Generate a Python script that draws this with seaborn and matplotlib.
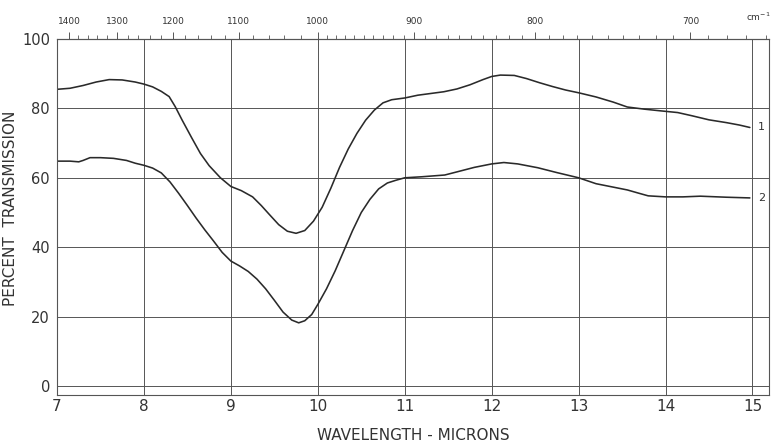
import numpy as np
import pandas as pd
import matplotlib
matplotlib.use("Agg")
import matplotlib.pyplot as plt
from matplotlib.ticker import FixedLocator, NullFormatter
import seaborn as sns

# Infrared transmission curves, wavelength in microns vs percent transmission
wavelength_1 = [7.0, 7.15, 7.3, 7.45, 7.6, 7.75, 7.9, 8.0, 8.1, 8.2, 8.29, 8.36, 8.44,
                8.55, 8.65, 8.75, 8.88, 9.0, 9.12, 9.25, 9.35, 9.44, 9.55, 9.65, 9.75,
                9.85, 9.95, 10.05, 10.15, 10.25, 10.35, 10.45, 10.55, 10.65, 10.75,
                10.85, 11.0, 11.15, 11.3, 11.45, 11.6, 11.75, 11.9, 12.0, 12.1, 12.26,
                12.4, 12.55, 12.7, 12.85, 13.0, 13.2, 13.4, 13.56, 13.75, 13.94, 14.14,
                14.3, 14.5, 14.7, 14.85, 14.97]
transmission_1 = [85.5, 85.8, 86.6, 87.6, 88.3, 88.2, 87.6, 87.0, 86.2, 84.9, 83.4, 80.5, 76.6,
                  71.5, 67.0, 63.5, 60.0, 57.5, 56.3, 54.5, 52.0, 49.5, 46.5, 44.6, 44.0,
                  44.8, 47.5, 51.5, 57.0, 63.0, 68.3, 72.8, 76.6, 79.5, 81.6,
                  82.5, 83.0, 83.8, 84.3, 84.8, 85.6, 86.8, 88.3, 89.2, 89.6, 89.5,
                  88.6, 87.4, 86.3, 85.3, 84.5, 83.3, 81.8, 80.4, 79.8, 79.3, 78.8,
                  77.9, 76.7, 75.9, 75.2, 74.5]

wavelength_2 = [7.0, 7.15, 7.25, 7.3, 7.38, 7.5, 7.65, 7.8, 7.9, 8.0, 8.1, 8.2, 8.3, 8.4,
                8.5, 8.6, 8.7, 8.8, 8.9, 9.0, 9.1, 9.2, 9.3, 9.4, 9.5, 9.6, 9.7, 9.78,
                9.85, 9.93, 10.0, 10.1, 10.2, 10.3, 10.4, 10.5, 10.6, 10.7, 10.8, 10.9,
                11.0, 11.2, 11.46, 11.6, 11.8, 12.0, 12.14, 12.3, 12.53, 12.75, 13.0,
                13.2, 13.4, 13.56, 13.7, 13.8, 14.0, 14.2, 14.4, 14.7, 14.97]
transmission_2 = [64.8, 64.8, 64.6, 65.0, 65.8, 65.8, 65.6, 65.0, 64.2, 63.6, 62.8, 61.4, 58.8, 55.5,
                  52.0, 48.4, 45.0, 41.8, 38.5, 36.0, 34.6, 33.0, 30.8, 28.0, 24.7, 21.3, 19.0, 18.2,
                  18.8, 20.6, 23.5, 28.0, 33.2, 39.0, 44.8, 50.0, 53.8, 56.8, 58.5, 59.3,
                  60.0, 60.3, 60.8, 61.7, 63.0, 64.0, 64.4, 64.0, 62.9, 61.5, 60.0,
                  58.3, 57.3, 56.5, 55.5, 54.8, 54.5, 54.5, 54.7, 54.4, 54.2]

curve_names = ["1", "2"]
x_ticks = [7, 8, 9, 10, 11, 12, 13, 14, 15]
y_ticks = [0, 20, 40, 60, 80, 100]
wavenumber_ticks = [1400, 1300, 1200, 1100, 1000, 900, 800, 700]

df = pd.concat([
    pd.DataFrame({"wavelength": wavelength_1, "transmission": transmission_1, "curve": curve_names[0]}),
    pd.DataFrame({"wavelength": wavelength_2, "transmission": transmission_2, "curve": curve_names[1]}),
])

sns.set_theme(style="white")
plt.rcParams["font.family"] = ["DejaVu Sans"]

ink = "#333333"
grid_ink = "#555555"

fig = plt.figure(figsize=(7.73, 4.45), dpi=100)
ax = fig.add_axes([57 / 773, 1 - 395 / 445, (769 - 57) / 773, (395 - 39) / 445])

sns.lineplot(data=df, x="wavelength", y="transmission", units="curve", estimator=None,
             color="#2a2a2a", linewidth=1.15, sort=False, legend=False, ax=ax)
for line in ax.lines:
    line.set_solid_joinstyle("round")

ax.set_xlim(7, 15.19)
ax.set_ylim(-2.6, 100)

# Grid on integer microns and every 20 percent
ax.xaxis.set_major_locator(FixedLocator(x_ticks))
ax.yaxis.set_major_locator(FixedLocator(y_ticks))
ax.xaxis.set_minor_locator(FixedLocator(np.arange(7.2, 15.19, 0.2)))
ax.grid(True, which="major", color=grid_ink, linewidth=0.7)
ax.set_axisbelow(True)

ax.tick_params(axis="x", which="major", direction="in", length=6.5, width=0.7,
               color=grid_ink, labelsize=11, labelcolor=ink, pad=3)
ax.tick_params(axis="x", which="minor", direction="in", length=4.5, width=0.7, color=grid_ink)
ax.tick_params(axis="y", which="major", direction="out", length=4, width=0.7,
               color=grid_ink, labelsize=10.5, labelcolor=ink, pad=1)
ax.set_xticklabels([str(t) for t in x_ticks])
ax.set_yticklabels([str(t) for t in y_ticks])

for side in ["left", "right", "top", "bottom"]:
    ax.spines[side].set_visible(True)
    ax.spines[side].set_color(grid_ink)
    ax.spines[side].set_linewidth(0.8)

ax.set_xlabel("WAVELENGTH - MICRONS", fontsize=11, color=ink, labelpad=10)
ax.set_ylabel("PERCENT  TRANSMISSION", fontsize=11, color=ink)
ax.yaxis.set_label_coords(-0.055, 0.525)

# Wavenumber scale along the top edge
top = ax.secondary_xaxis("top", functions=(lambda x: 10000.0 / np.asarray(x, dtype=float),
                                           lambda k: 10000.0 / np.asarray(k, dtype=float)))
top.xaxis.set_major_locator(FixedLocator(wavenumber_ticks))
top.set_xticklabels([str(k) for k in wavenumber_ticks])
minor_k = np.concatenate([np.arange(1000, 1420, 20), np.arange(660, 1000, 10)])
top.xaxis.set_minor_locator(FixedLocator(minor_k))
top.xaxis.set_minor_formatter(NullFormatter())
top.tick_params(axis="x", which="major", direction="out", length=5, width=0.7,
                color=grid_ink, labelsize=6.5, labelcolor=ink, pad=4)
top.tick_params(axis="x", which="minor", direction="out", length=3, width=0.6, color=grid_ink)
top.spines["top"].set_color(grid_ink)
top.spines["top"].set_linewidth(0.8)
ax.text(15.07, 104.5, "cm$^{-1}$", fontsize=6.5, color=ink, ha="center", va="bottom")

# Curve numbers at the right-hand end
ax.text(15.06, transmission_1[-1], curve_names[0], fontsize=8, color=ink, ha="left", va="center")
ax.text(15.06, transmission_2[-1], curve_names[1], fontsize=8, color=ink, ha="left", va="center")

fig.savefig("out.png", dpi=100)
